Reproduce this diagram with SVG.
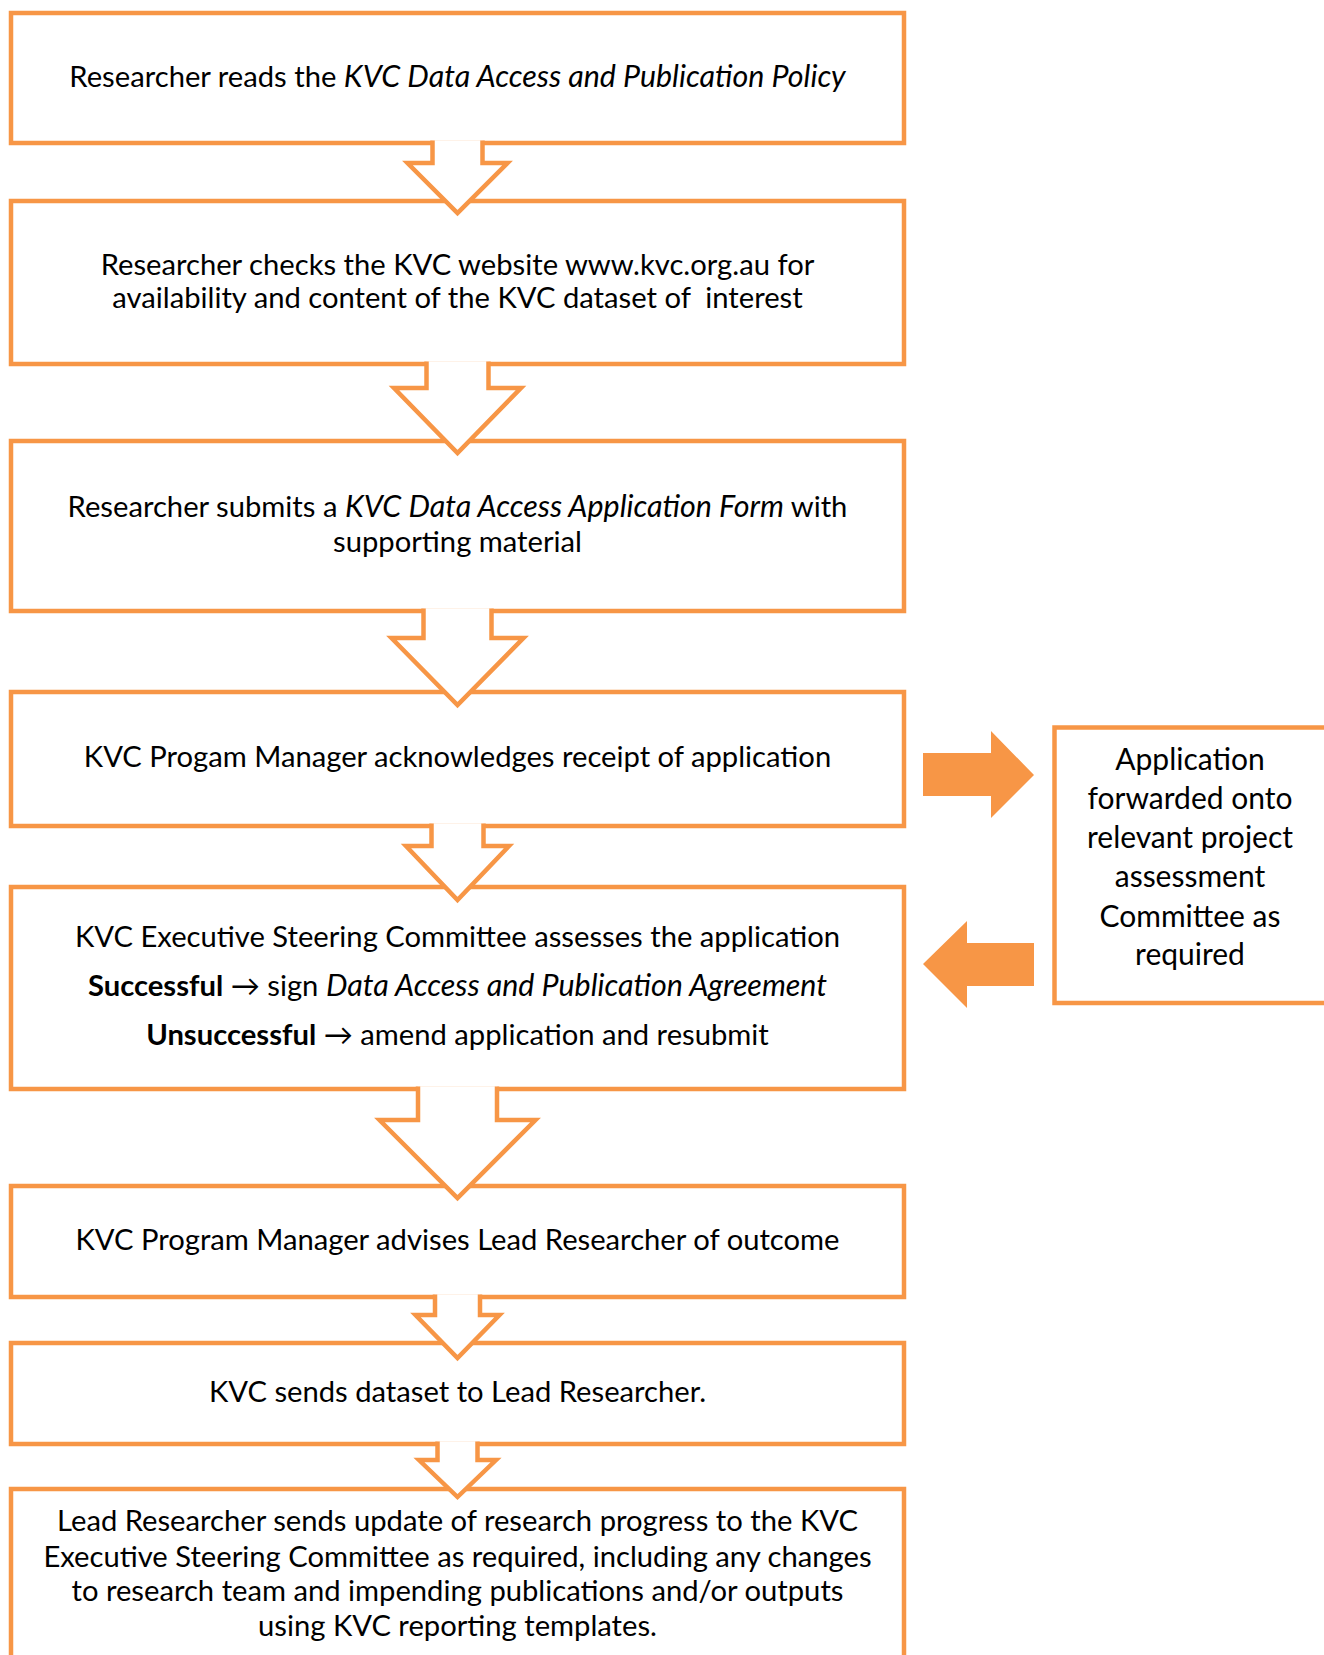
<svg xmlns="http://www.w3.org/2000/svg" width="1324" height="1655" viewBox="0 0 1324 1655">
<style>
.box{fill:none;stroke:#F79646;stroke-width:4.5}
.arr{fill:#FFFFFF;stroke:#F79646;stroke-width:4.5;stroke-linejoin:miter}
.fa{fill:#F79646;stroke:none}
text{font-family:Lato,"Open Sans",sans-serif;font-size:29.2px;fill:#000000;text-anchor:middle}
.r text{font-size:30px}
.i{font-style:italic;font-size:30.4px}
.b{font-weight:bold}
</style>
<rect x="0" y="0" width="1324" height="1655" fill="#FFFFFF"/>
<g id="n1"><rect class="box" x="11" y="13" width="893" height="130"/>
<text x="457.5" y="87">Researcher reads the <tspan class="i">KVC Data Access and Publication Policy</tspan></text></g>
<g id="n2"><rect class="box" x="11" y="201" width="893" height="163"/>
<text x="457.5" y="275">Researcher checks the KVC website www.kvc.org.au for</text>
<text x="457.5" y="308" xml:space="preserve">availability and content of the KVC dataset of  interest</text></g>
<g id="n3"><rect class="box" x="11" y="441" width="893" height="170"/>
<text x="457.5" y="517">Researcher submits a <tspan class="i">KVC Data Access Application Form</tspan> with</text>
<text x="457.5" y="552">supporting material</text></g>
<g id="n4"><rect class="box" x="11" y="692" width="893" height="134"/>
<text x="457.5" y="767">KVC Progam Manager acknowledges receipt of application</text></g>
<g id="n5"><rect class="box" x="11" y="887" width="893" height="202"/>
<text x="457.5" y="947">KVC Executive Steering Committee assesses the application</text>
<text x="457.5" y="996"><tspan class="b">Successful</tspan> → sign <tspan class="i">Data Access and Publication Agreement</tspan></text>
<text x="457.5" y="1045"><tspan class="b">Unsuccessful</tspan> → amend application and resubmit</text></g>
<g id="n6"><rect class="box" x="11" y="1186" width="893" height="111"/>
<text x="457.5" y="1250">KVC Program Manager advises Lead Researcher of outcome</text></g>
<g id="n7"><rect class="box" x="11" y="1343" width="893" height="101"/>
<text x="457.5" y="1402">KVC sends dataset to Lead Researcher.</text></g>
<g id="n8"><rect class="box" x="11" y="1489" width="893" height="200"/>
<text x="457.5" y="1531">Lead Researcher sends update of research progress to the KVC</text>
<text x="457.5" y="1567">Executive Steering Committee as required, including any changes</text>
<text x="457.5" y="1601">to research team and impending publications and/or outputs</text>
<text x="457.5" y="1636">using KVC reporting templates.</text></g>
<g id="n9" class="r"><rect class="box" x="1054.5" y="727.5" width="300" height="275.5"/>
<text x="1190" y="770">Application</text>
<text x="1190" y="809">forwarded onto</text>
<text x="1190" y="848">relevant project</text>
<text x="1190" y="887">assessment</text>
<text x="1190" y="927">Committee as</text>
<text x="1190" y="965">required</text></g>
<g id="connectors">
<path class="arr" d="M432.5 140.5 L432.5 163 L407.5 163 L457.5 213 L507.5 163 L482.5 163 L482.5 140.5"/>
<path class="arr" d="M426.5 361.5 L426.5 388 L394 388 L457.5 453 L521 388 L488.5 388 L488.5 361.5"/>
<path class="arr" d="M423.5 608.5 L423.5 638 L391.5 638 L457.5 705 L523.5 638 L491.5 638 L491.5 608.5"/>
<path class="arr" d="M431.5 823.5 L431.5 846 L406 846 L457.5 900 L509 846 L483.5 846 L483.5 823.5"/>
<path class="arr" d="M418 1086.5 L418 1120 L379.5 1120 L457.5 1198 L535.5 1120 L497 1120 L497 1086.5"/>
<path class="arr" d="M435 1294.5 L435 1315 L415.5 1315 L457.5 1358 L499.5 1315 L480 1315 L480 1294.5"/>
<path class="arr" d="M437.5 1441.5 L437.5 1460 L419 1460 L457.5 1497 L496 1460 L477.5 1460 L477.5 1441.5"/>
<polygon class="fa" points="923,753 991,753 991,731 1034,775 991,818 991,796 923,796"/>
<polygon class="fa" points="1034,943 967,943 967,921 923,964 967,1008 967,986 1034,986"/>
</g>
</svg>
